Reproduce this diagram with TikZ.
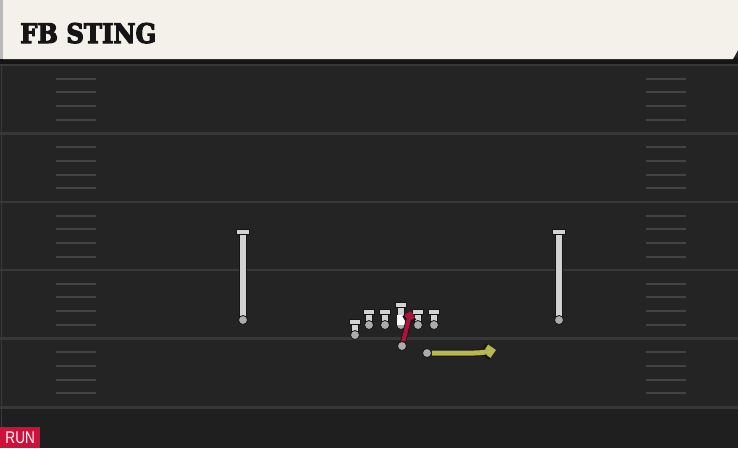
\documentclass[tikz,border=0pt]{standalone}
\usepackage{fontspec}
\usetikzlibrary{arrows.meta}
\newfontfamily\titlefont{DejaVu Serif Condensed}[FakeBold=4]
\newfontfamily\tagfont{Liberation Sans}[FakeStretch=0.8]
\definecolor{field}{HTML}{242424}
\definecolor{endband}{HTML}{1F1F1F}
\definecolor{yardline}{HTML}{383838}
\definecolor{paper}{HTML}{F4F1EA}
\definecolor{runred}{HTML}{D0103A}
\definecolor{blockred}{HTML}{B0123C}
\definecolor{routeyel}{HTML}{B8B850}
\definecolor{playergrey}{HTML}{D2D2D2}
\definecolor{outline}{HTML}{151515}
% T-shaped player: name, x, top, bottom, bar width
\newcommand\tplayer[5]{%
  \draw[line width=7.5pt,outline] (#2,#3) -- (#2,#4);
  \draw[line width=5.2pt,playergrey] (#2,#3) -- (#2,#4);
  \fill[playergrey,draw=outline,line width=0.9pt] (#2-#5/2,#3-2.2) rectangle (#2+#5/2,#3+2.8);
  \node[dot] (#1) at (#2,#4) {};}
\begin{document}
\begin{tikzpicture}[x=1pt,y=-1pt,
    yard/.style={draw=yardline,line width=2.2pt},
    hash/.style={draw=yardline!85!gray,line width=2pt},
    dot/.style={circle,fill=gray!65,draw=outline,line width=0.8pt,inner sep=0pt,minimum size=9pt}]
  \useasboundingbox (0,0) rectangle (738,448);
  \fill[field] (0,0) rectangle (738,448);
  \fill[endband] (0,408) rectangle (738,448);
  \draw[yardline,line width=0.8pt] (1,64) -- (1,448);
  % yard lines and hashes
  \foreach \s in {65,133.5,202,270,338.5}{
    \draw[yard] (0,\s) -- (738,\s);
    \foreach \k in {1,...,4}{
      \draw[hash] (56,{\s+13.7*\k}) -- (96,{\s+13.7*\k});
      \draw[hash] (646,{\s+13.7*\k}) -- (686,{\s+13.7*\k});
    }
  }
  \draw[yard] (0,407.5) -- (738,407.5);
  % header
  \fill[outline] (0,58) rectangle (738,64);
  \fill[paper] (3,0) -- (738,0) -- (738,50) -- (733,59) -- (3,59) -- cycle;
  \fill[gray!55] (0,0) rectangle (3,59);
  \node[anchor=base west,inner sep=0pt,text=outline,
        font=\titlefont\bfseries\fontsize{27}{27}\selectfont] (title) at (20,43) {FB STING};
  % receivers
  \tplayer{wrL}{243}{232}{320}{13}
  \tplayer{wrR}{559}{232}{320}{13}
  % line
  \tplayer{te}{355}{322}{335}{11}
  \tplayer{lt}{369}{312}{325}{11}
  \tplayer{lg}{385}{312}{325}{11}
  \tplayer{c}{401}{305}{325}{11}
  \tplayer{rg}{418}{312}{325}{11}
  \tplayer{rt}{434}{312}{325}{11}
  \node[fill=white,inner sep=0pt,minimum width=8.5pt,minimum height=10pt] (ball) at (401,319.5) {};
  % backs and routes
  \node[dot] (fb) at (402,346) {};
  \node[dot] (hb) at (427,353) {};
  \coordinate (fbEnd) at (411,311);
  \coordinate (hbEnd) at (496,350);
  \draw[outline,line width=6pt,-{Straight Barb[length=5pt,width=10pt]}] (fb) -- (fbEnd);
  \draw[blockred,line width=4.2pt,-{Straight Barb[length=4pt,width=8pt]}] (fb) -- (fbEnd);
  \draw[outline,line width=7pt,-{Straight Barb[length=6pt,width=12pt]}]
    (hb) -- (474,353) to[out=0,in=190] (hbEnd);
  \draw[routeyel,line width=5pt,-{Straight Barb[length=5pt,width=10pt]}]
    (hb) -- (474,353) to[out=0,in=190] (hbEnd);
  \node[dot] at (hb) {};
  \node[dot] at (fb) {};
  % play type tag
  \node[anchor=south west,fill=runred,text=white,inner sep=0pt,
        minimum width=40pt,minimum height=20.5pt,
        font=\tagfont\fontsize{17}{17}\selectfont] (tag) at (0,448) {RUN};
\end{tikzpicture}
\end{document}
